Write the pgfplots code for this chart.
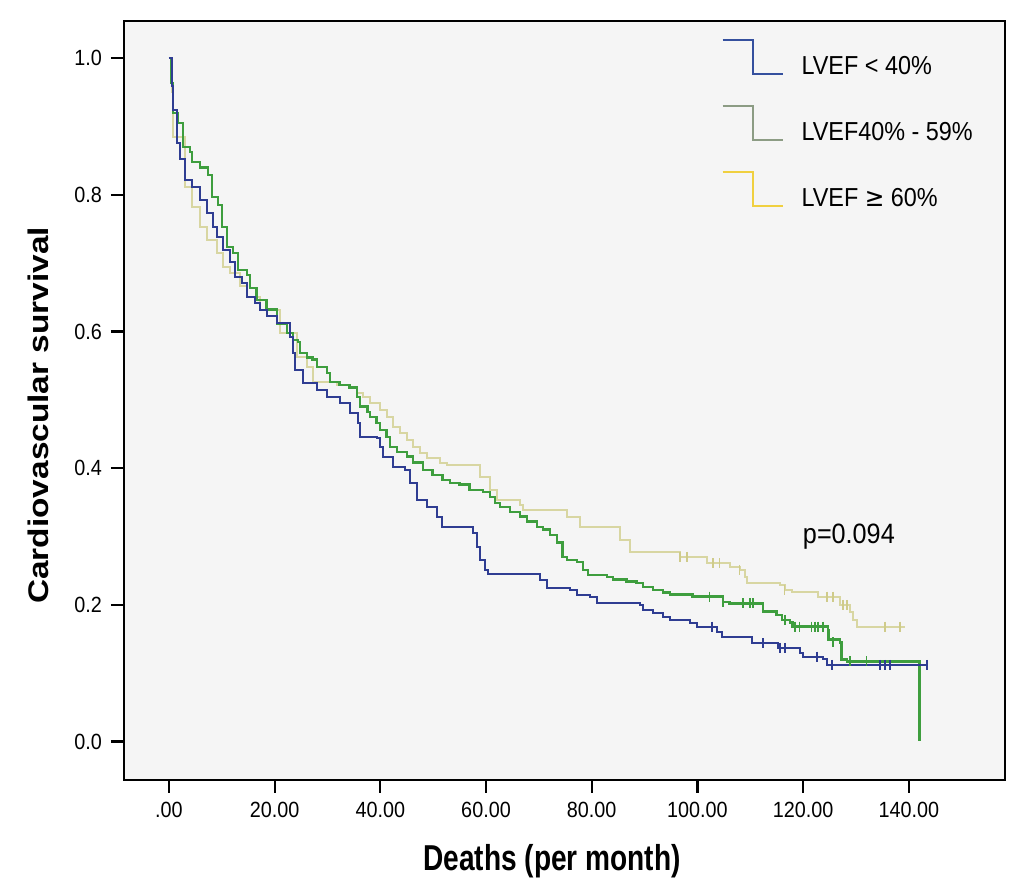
\documentclass[border=0pt]{standalone}
\usepackage{fontspec}
\setmainfont{Liberation Sans}[FakeStretch=0.9]
\newfontfamily\labelfont{Liberation Sans}[FakeStretch=0.78]
\newfontfamily\ylabelfont{Liberation Sans}
\newfontfamily\symfont{DejaVu Sans}[FakeStretch=0.9]
\usepackage{pgfplots}
\pgfplotsset{compat=1.18}
\definecolor{kmblue}{HTML}{2F3D92}
\definecolor{kmgreen}{HTML}{3E9E3E}
\definecolor{kmyellow}{HTML}{D8D6A2}
\definecolor{kmyellowc}{HTML}{CFCB8A}
\definecolor{lgblue}{HTML}{35509E}
\definecolor{lggreen}{HTML}{8C9C84}
\definecolor{lgyellow}{HTML}{F0D040}
\begin{document}
\begin{tikzpicture}
\begin{axis}[
  name=ax,
  scale only axis,
  width=440.5pt, height=379.5pt,
  xmin=-8.5, xmax=158.2,
  ymin=-0.056, ymax=1.055,
  axis background/.style={fill=black!4},
  axis line style={black, line width=1.1pt},
  xtick={0,20,40,60,80,100,120,140},
  xticklabels={.00,20.00,40.00,60.00,80.00,100.00,120.00,140.00},
  ytick={0,0.2,0.4,0.6,0.8,1.0},
  yticklabels={0.0,0.2,0.4,0.6,0.8,1.0},
  xtick pos=left, ytick pos=left,
  tick align=outside,
  major tick length=6.5pt,
  tick style={black, line width=1.1pt},
  /pgf/number format/assume math mode=true,
  ticklabel style={font=\fontsize{11}{13}\selectfont},
  xticklabel style={yshift=-1pt},
  yticklabel style={xshift=-1pt},
  xlabel={Deaths (per month)},
  ylabel={\scalebox{1}[0.85]{Cardiovascular survival}},
  xlabel style={at={(axis description cs:0.486,-0.108)}, anchor=center, font=\labelfont\bfseries\fontsize{18}{20}\selectfont},
  ylabel style={at={(axis description cs:-0.0976,0.48)}, anchor=center, font=\ylabelfont\bfseries\fontsize{16.7}{19}\selectfont},
  legend style={at={(axis description cs:0.671,0.9814)}, anchor=north west, draw=none, fill=none,
    font=\fontsize{13}{15}\selectfont, row sep=11.75pt,
    /tikz/every odd column/.append style={column sep=7pt}},
  legend cell align=left,
  legend image code/.code={\draw[#1, line width=1pt] (0pt,13.5pt) -- (15pt,13.5pt) -- (15pt,-3.5pt) -- (30pt,-3.5pt);},
  const plot,
]
\addlegendimage{lgblue}
\addlegendentry{LVEF < 40\%}
\addlegendimage{lggreen}
\addlegendentry{LVEF40\% - 59\%}
\addlegendimage{lgyellow}
\addlegendentry{LVEF {\symfont ≥} 60\%}

% LVEF >= 60 (yellow)
\addplot[kmyellow, line width=1pt, forget plot] coordinates {
(0,1.0) (0.5,0.95) (0.76,0.885) (3.0,0.812) (4.35,0.782) (5.86,0.753) (7.2,0.734)
(9.1,0.715) (10.2,0.695) (11.5,0.686) (13.4,0.666) (14.8,0.651) (17.2,0.632)
(21.0,0.598) (24.2,0.563) (26.1,0.548) (27.2,0.526) (31.8,0.522) (34.2,0.519)
(35.6,0.510) (36.7,0.504) (38.0,0.496) (39.9,0.485) (41.2,0.475) (42.4,0.460)
(43.7,0.452) (45.0,0.441) (46.2,0.431) (47.5,0.422) (48.8,0.415) (51.3,0.408)
(52.6,0.405) (58.8,0.387) (60.7,0.368) (62.1,0.354) (66.4,0.346) (67.0,0.339)
(75.3,0.329) (77.8,0.314) (85.3,0.295) (87.2,0.278) (96.7,0.270) (101.8,0.261)
(106.1,0.256) (108.0,0.251) (109.0,0.241) (109.3,0.232) (115.6,0.229) (116.5,0.222)
(117.9,0.219) (122.8,0.212) (127.0,0.200) (128.8,0.190) (129.4,0.178) (130.2,0.168)
(139.2,0.168)
};
\addplot[kmyellowc, only marks, mark=|, mark size=2.5pt, line width=0.8pt, forget plot] coordinates {
(96.7,0.270) (98.0,0.270) (102.9,0.261) (104.2,0.261) (108.0,0.251) (116.5,0.222)
(124.5,0.212) (125.6,0.212) (127.5,0.200) (128.3,0.200) (135.5,0.168) (138.3,0.168)
};

% LVEF 40-59 (green)
\addplot[kmgreen, line width=1.2pt, forget plot] coordinates {
(0,1.0) (0.5,0.964) (0.76,0.920) (1.7,0.905) (2.65,0.870) (3.97,0.863) (4.35,0.848)
(5.86,0.840) (7.4,0.829) (8.1,0.797) (9.3,0.785) (10.0,0.753) (11.0,0.724)
(12.1,0.715) (13.05,0.690) (14.8,0.683) (15.3,0.664) (16.6,0.646) (18.5,0.632)
(20.4,0.612) (22.3,0.598) (23.5,0.588) (24.4,0.585) (24.8,0.569) (26.1,0.562)
(27.2,0.559) (28.0,0.548) (29.9,0.539) (30.5,0.526) (32.3,0.522) (34.2,0.518)
(35.6,0.504) (36.1,0.490) (37.6,0.482) (38.0,0.475) (39.3,0.466) (39.9,0.456)
(41.2,0.446) (41.8,0.431) (43.1,0.424) (45.0,0.417) (46.2,0.408) (48.1,0.397)
(49.9,0.390) (51.8,0.383) (53.2,0.378) (55.0,0.376) (56.9,0.368) (59.4,0.365)
(60.7,0.358) (61.7,0.349) (62.6,0.343) (64.5,0.336) (66.4,0.329) (67.7,0.322)
(69.6,0.314) (70.8,0.310) (72.1,0.302) (73.4,0.291) (74.5,0.270) (75.3,0.266)
(77.2,0.263) (78.3,0.251) (79.3,0.244) (82.9,0.241) (84.0,0.237) (86.6,0.234)
(88.5,0.232) (89.7,0.226) (91.6,0.222) (93.5,0.218) (94.8,0.215) (99.1,0.212)
(104.8,0.204) (106.1,0.202) (112.4,0.190) (115.0,0.185) (116.0,0.178) (117.5,0.174)
(118.0,0.168) (124.7,0.163) (124.8,0.149) (127.0,0.145) (127.3,0.120) (128.3,0.117)
(142.0,0.0)
};
\addplot[kmgreen, only marks, mark=|, mark size=2.5pt, line width=0.9pt, forget plot] coordinates {
(102.3,0.212) (104.8,0.204) (108.6,0.202) (109.9,0.202) (110.5,0.202) (116.5,0.178)
(118.5,0.168) (119.3,0.168) (121.6,0.168) (122.2,0.168) (122.8,0.168) (123.7,0.168)
(125.6,0.145) (128.8,0.117) (132.0,0.117)
};

% LVEF < 40 (blue)
\addplot[kmblue, line width=1pt, forget plot] coordinates {
(0,1.0) (0.5,0.96) (0.76,0.924) (1.46,0.876) (2.1,0.852) (3.0,0.822) (4.35,0.812)
(5.86,0.793) (7.2,0.774) (8.3,0.753) (9.1,0.739) (10.2,0.720) (11.5,0.702)
(12.5,0.680) (13.8,0.671) (14.8,0.650) (16.3,0.642) (17.2,0.632) (18.5,0.622)
(20.4,0.613) (22.9,0.592) (23.5,0.569) (23.8,0.544) (25.3,0.525) (28.0,0.515)
(29.9,0.504) (32.3,0.496) (34.2,0.481) (35.8,0.466) (36.1,0.446) (39.3,0.444)
(39.9,0.431) (40.5,0.417) (42.4,0.402) (44.6,0.398) (45.6,0.379) (46.9,0.354)
(48.8,0.343) (50.7,0.329) (51.6,0.314) (57.5,0.305) (58.3,0.285) (58.8,0.266)
(59.8,0.251) (60.3,0.245) (70.2,0.237) (71.5,0.225) (75.9,0.222) (77.2,0.215)
(79.6,0.212) (81.0,0.203) (89.1,0.200) (89.7,0.193) (91.6,0.188) (93.5,0.182)
(94.8,0.178) (98.6,0.174) (99.9,0.168) (103.7,0.160) (104.6,0.153) (110.3,0.144)
(115.2,0.137) (119.4,0.130) (119.9,0.124) (123.7,0.120) (124.5,0.112) (143.4,0.112)
};
\addplot[kmblue, only marks, mark=|, mark size=2.5pt, line width=0.9pt, forget plot] coordinates {
(102.7,0.168) (112.4,0.144) (115.6,0.137) (116.5,0.137) (122.6,0.124) (125.4,0.112)
(134.5,0.112) (135.5,0.112) (136.4,0.112) (143.4,0.112)
};

\node[anchor=west, inner sep=0pt, font=\fontsize{14}{16}\selectfont] at (axis cs:119.9,0.30) {p=0.094};
\end{axis}
\pgfresetboundingbox
\path ([shift={(-62pt,-56pt)}]ax.south west) rectangle ([shift={(9.5pt,10.35pt)}]ax.north east);
\end{tikzpicture}
\end{document}
